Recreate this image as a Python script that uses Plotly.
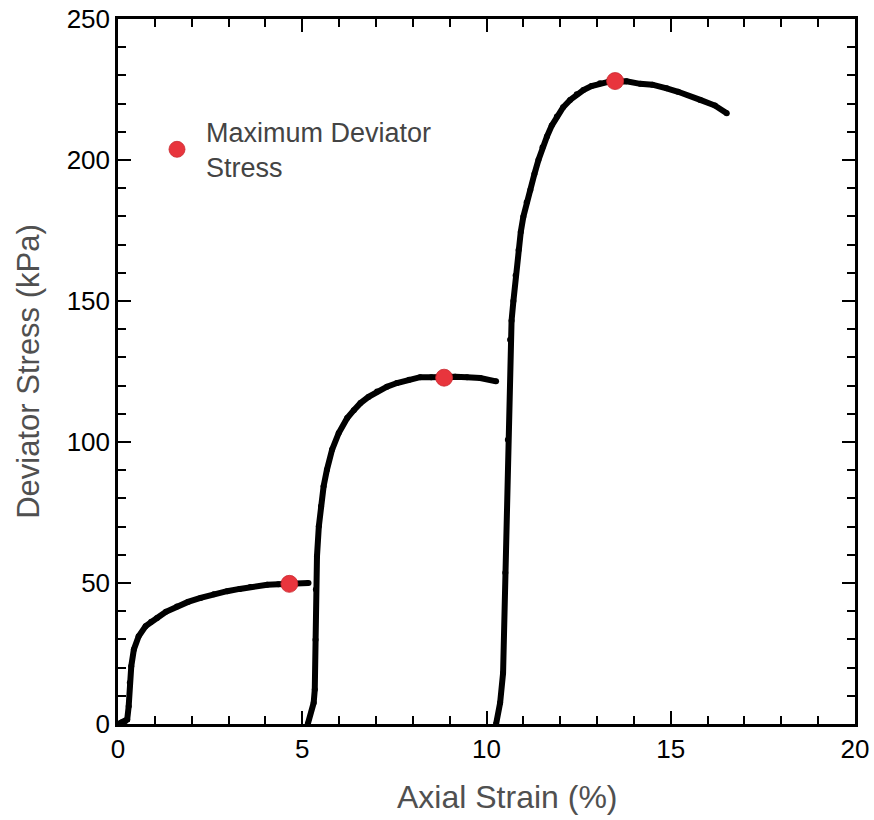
import plotly.graph_objects as go

# Stage 1 loading curve (axial strain %, deviator stress kPa)
strain_1 = [0.0, 0.1, 0.2, 0.25, 0.29, 0.32, 0.36, 0.43, 0.56, 0.75, 0.9, 1.06, 1.3, 1.6, 1.9, 2.24, 2.6, 2.96, 3.3, 3.59, 4.05, 4.35, 4.65, 5.17]
stress_1 = [0.0, 0.5, 1.0, 1.6, 6.3, 14.6, 20.5, 26.4, 31.1, 34.7, 36.3, 37.6, 39.8, 41.7, 43.3, 44.7, 46.0, 47.1, 47.9, 48.6, 49.4, 49.6, 49.7, 50.0]

# Stage 2
strain_2 = [5.15, 5.31, 5.34, 5.36, 5.37, 5.40, 5.45, 5.51, 5.58, 5.67, 5.81, 5.99, 6.22, 6.4, 6.58, 6.8, 7.03, 7.3, 7.57, 7.9, 8.2, 8.5, 8.85, 9.15, 9.47, 9.83, 10.26]
stress_2 = [0.0, 7.5, 12.2, 29.9, 47.7, 59.5, 70.1, 77.2, 84.3, 90.2, 97.3, 103.2, 108.5, 111.3, 113.8, 116.0, 117.9, 119.6, 120.9, 122.1, 123.0, 123.0, 122.8, 123.1, 123.0, 122.7, 121.5]

# Stage 3
strain_3 = [10.26, 10.37, 10.45, 10.51, 10.58, 10.64, 10.68, 10.73, 10.79, 10.87, 10.93, 11.0, 11.09, 11.19, 11.3, 11.41, 11.52, 11.64, 11.77, 11.91, 12.08, 12.27, 12.45, 12.63, 12.85, 13.08, 13.3, 13.49, 13.8, 14.17, 14.5, 14.89, 15.2, 15.8, 16.2, 16.52]
stress_3 = [0.0, 7.5, 18.1, 53.6, 100.8, 136.3, 143.0, 150.0, 159.0, 168.1, 174.5, 179.9, 185.0, 189.4, 195.0, 200.0, 204.5, 208.3, 212.2, 215.4, 218.7, 221.3, 223.3, 224.8, 226.2, 227.2, 227.7, 227.8, 227.9, 227.0, 226.7, 225.4, 224.2, 221.3, 219.3, 216.6]

# Maximum deviator stress points
peak_strain = [4.65, 8.85, 13.49]
peak_stress = [49.7, 122.8, 228.0]

FONT = "Liberation Sans, Arial, sans-serif"

fig = go.Figure()
for xs, ys in [(strain_1, stress_1), (strain_2, stress_2), (strain_3, stress_3)]:
    fig.add_trace(go.Scatter(
        x=xs, y=ys, mode="lines+markers",
        line=dict(color="black", width=6),
        marker=dict(color="black", size=6),
        showlegend=False, hoverinfo="skip",
    ))

fig.add_trace(go.Scatter(
    x=peak_strain, y=peak_stress, mode="markers",
    marker=dict(color="#e8353d", size=17, line=dict(color="#c9282f", width=0.8)),
    name="Maximum Deviator<br>Stress", showlegend=True,
))

axis_common = dict(
    showline=True, linecolor="black", linewidth=2.5, mirror="allticks",
    ticks="inside", ticklen=13, tickwidth=2, tickcolor="black",
    showgrid=False, zeroline=False, automargin=False,
    tickfont=dict(family=FONT, size=26, color="black"),
    title_font=dict(family=FONT, size=31, color="#505050"),
)

fig.update_xaxes(
    range=[0, 20], tick0=0, dtick=5,
    minor=dict(dtick=1, ticks="inside", ticklen=8, tickwidth=2, tickcolor="black"),
    **axis_common,
)
fig.update_yaxes(
    range=[0, 250], tick0=0, dtick=50,
    minor=dict(dtick=10, ticks="inside", ticklen=8, tickwidth=2, tickcolor="black"),
    title_text="Deviator Stress (kPa)", title_standoff=18,
    **axis_common,
)

fig.add_annotation(
    text="Axial Strain (%)", xref="paper", yref="paper",
    x=0.5285, y=-0.1035, xanchor="center", yanchor="middle",
    showarrow=False, font=dict(family=FONT, size=32, color="#505050"),
)

fig.update_layout(
    width=874, height=820,
    margin=dict(l=118, r=19, t=19, b=96, autoexpand=False),
    paper_bgcolor="white", plot_bgcolor="white",
    legend=dict(
        x=0.0407, y=0.8146, xanchor="left", yanchor="middle",
        bgcolor="rgba(0,0,0,0)", itemwidth=48,
        font=dict(family=FONT, size=27, color="#444444"),
    ),
)

fig.write_html("out.html", config={"displayModeBar": False},
               post_script="document.body.style.margin='0';")
